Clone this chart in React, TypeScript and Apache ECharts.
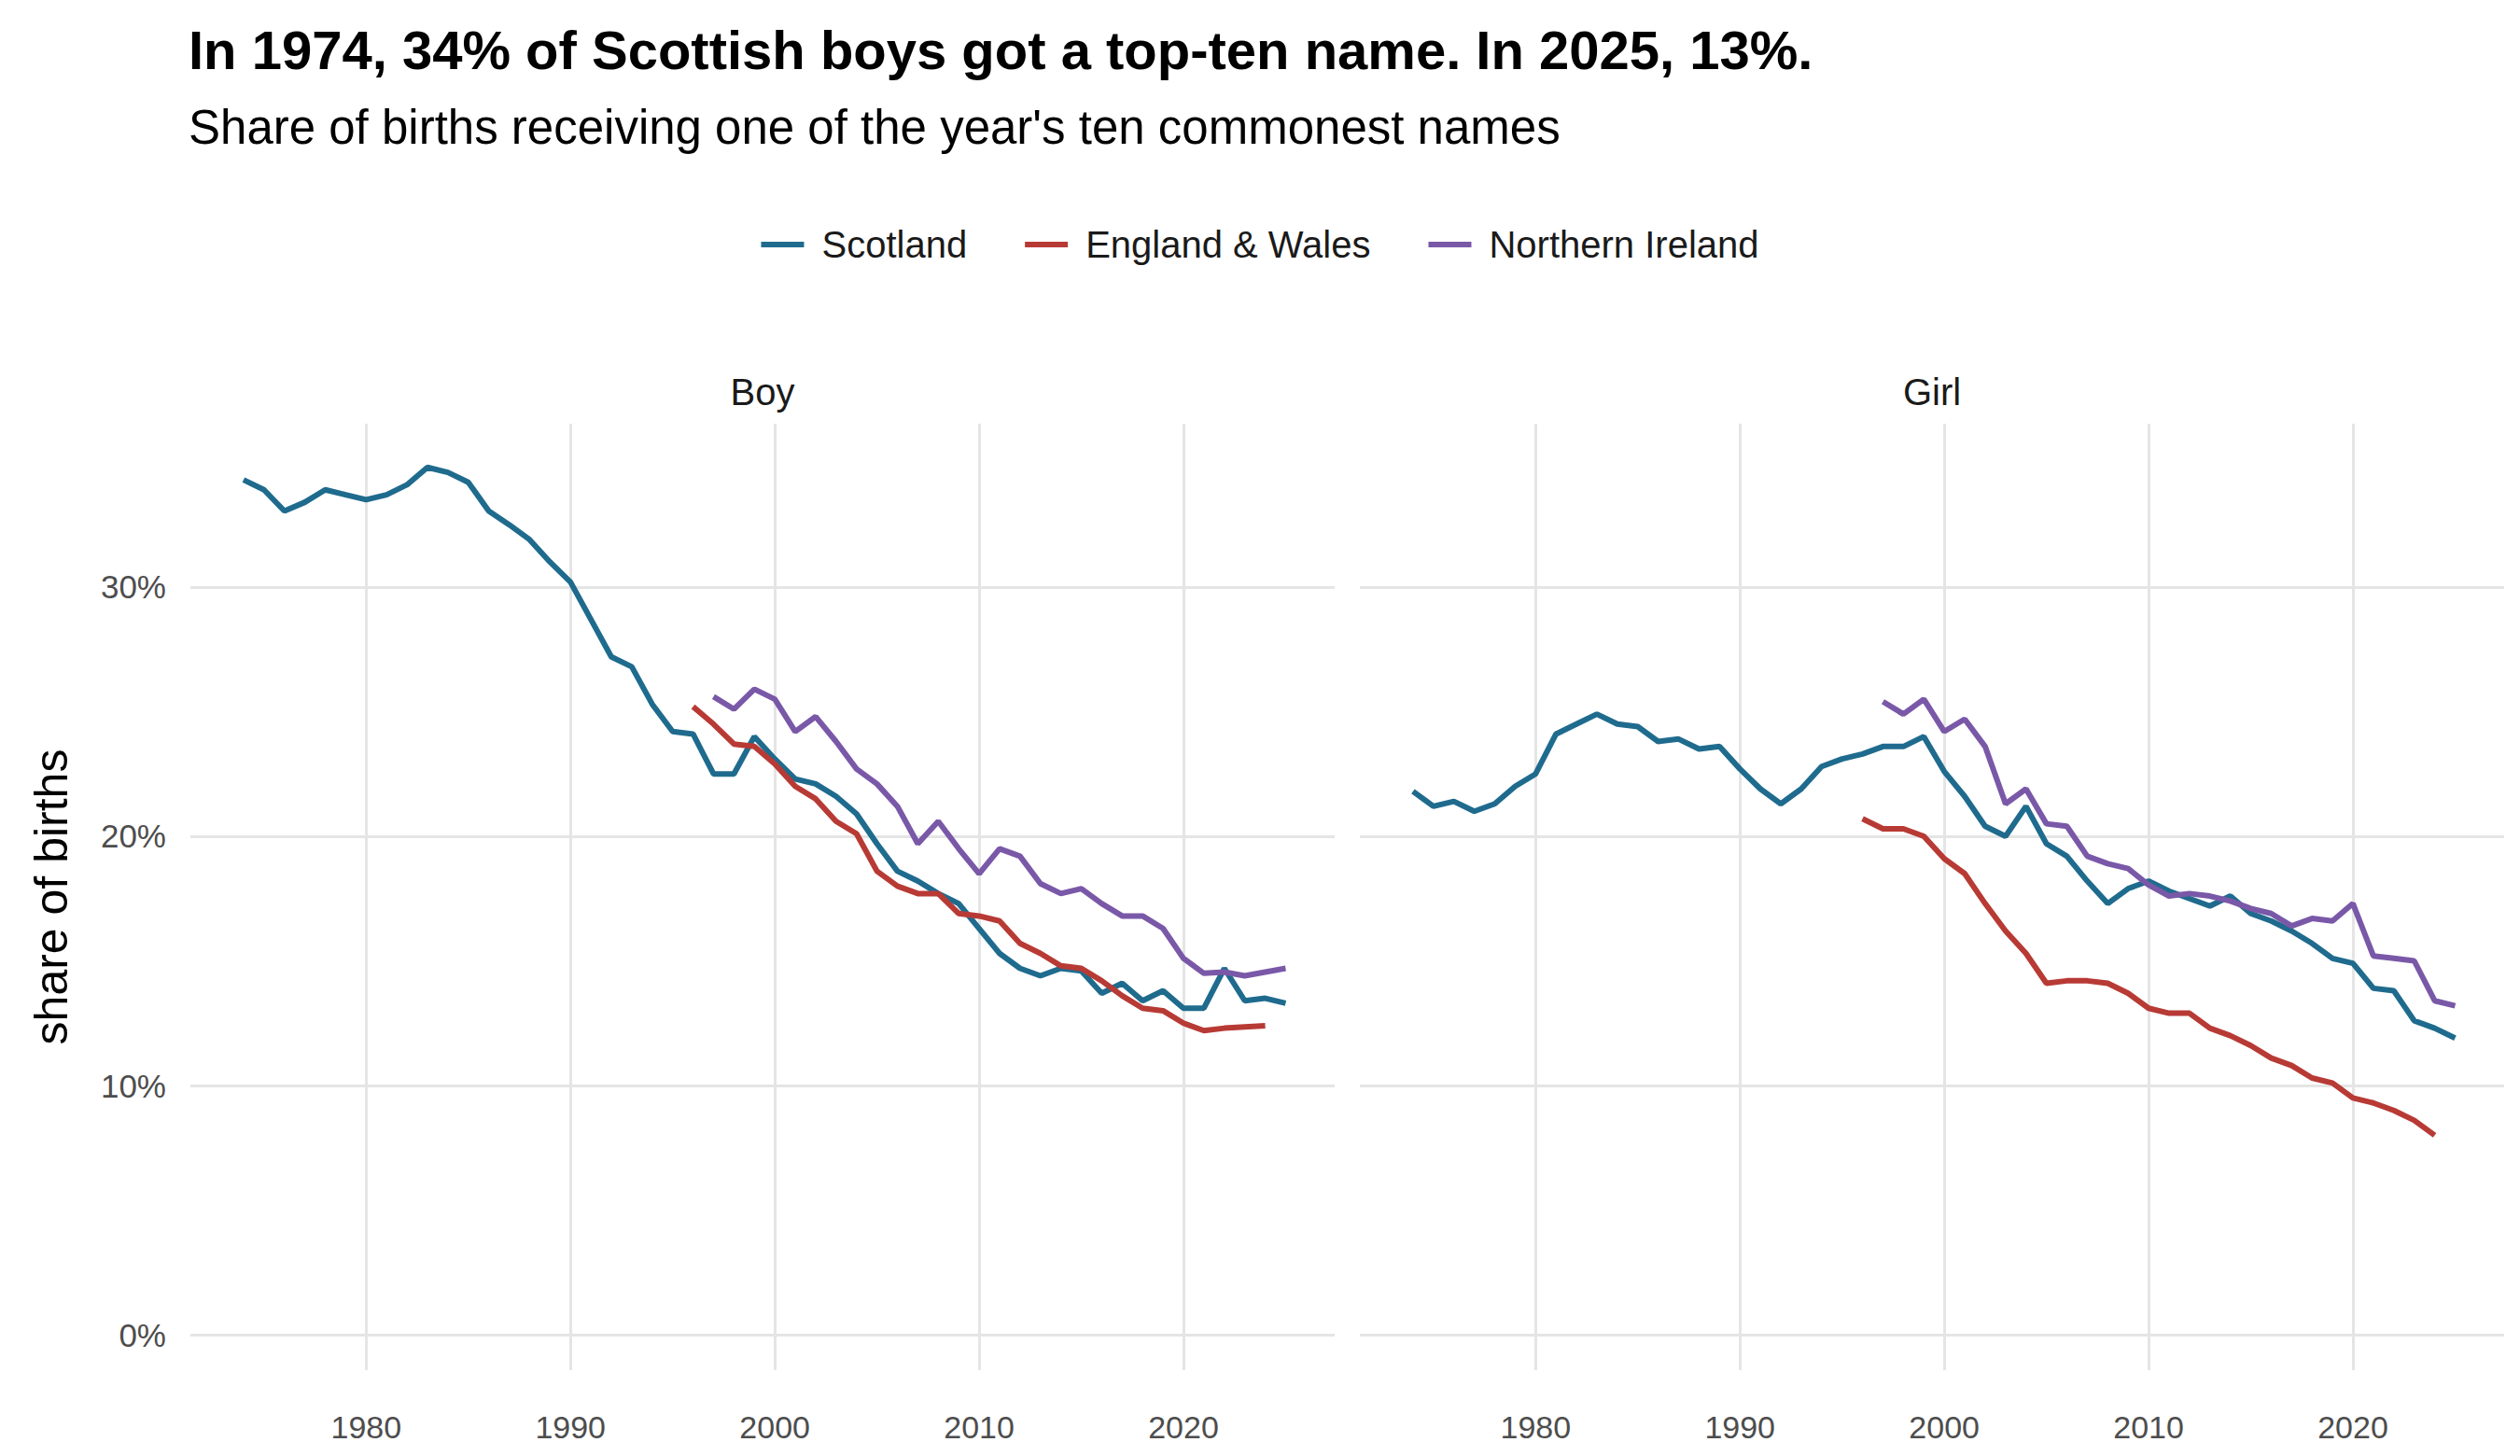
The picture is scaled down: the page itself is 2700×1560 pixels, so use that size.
import React, { useEffect, useRef } from "react";
import * as echarts from "echarts";

const years = Array.from({ length: 52 }, (_, i) => 1974 + i);
const boyScotland = [34.3,33.9,33.05,33.4,33.9,33.7,33.5,33.7,34.1,34.8,34.6,34.2,33.05,32.5,31.9,31.0,30.2,28.7,27.2,26.8,25.3,24.2,24.1,22.5,22.5,24.0,23.1,22.3,22.1,21.6,20.9,19.7,18.6,18.2,17.7,17.3,16.3,15.3,14.7,14.4,14.7,14.6,13.7,14.1,13.4,13.8,13.1,13.1,14.7,13.4,13.5,13.3];
const boyEW = [25.2,24.5,23.7,23.6,22.9,22.0,21.5,20.6,20.1,18.6,18.0,17.7,17.7,16.9,16.8,16.6,15.7,15.3,14.8,14.7,14.2,13.6,13.1,13.0,12.5,12.2,12.3,12.35,12.4];
const boyNI = [25.6,25.1,25.9,25.5,24.2,24.8,23.8,22.7,22.1,21.2,19.7,20.6,19.5,18.5,19.5,19.2,18.1,17.7,17.9,17.3,16.8,16.8,16.3,15.1,14.5,14.55,14.4,14.55,14.7];
const girlScotland = [21.8,21.2,21.4,21.0,21.3,22.0,22.5,24.1,24.5,24.9,24.5,24.4,23.8,23.9,23.5,23.6,22.7,21.9,21.3,21.9,22.8,23.1,23.3,23.6,23.6,24.0,22.6,21.6,20.4,20.0,21.2,19.7,19.2,18.2,17.3,17.9,18.2,17.8,17.5,17.2,17.6,16.9,16.6,16.2,15.7,15.1,14.9,13.9,13.8,12.6,12.3,11.9];
const girlEW = [20.7,20.3,20.3,20.0,19.1,18.5,17.3,16.2,15.3,14.1,14.2,14.2,14.1,13.7,13.1,12.9,12.9,12.3,12.0,11.6,11.1,10.8,10.3,10.1,9.5,9.3,9.0,8.6,8.0];
const girlNI = [25.4,24.9,25.5,24.2,24.7,23.6,21.3,21.9,20.5,20.4,19.2,18.9,18.7,18.05,17.6,17.7,17.6,17.4,17.1,16.9,16.4,16.7,16.6,17.3,15.2,15.1,15.0,13.4,13.2];
const ewStart = 1996;
const niStart = 1997;
const xTicks = [1980, 1990, 2000, 2010, 2020];
const yTicks = [0, 10, 20, 30];
const seriesNames = ["Scotland", "England & Wales", "Northern Ireland"];
const colors = ["#1f6b8e", "#b83a35", "#7a58a8"];

const pairs = (start: number, vals: number[]) => vals.map((v, i) => [start + i, v]);

export default function App() {
  const ref = useRef<HTMLDivElement>(null);
  useEffect(() => {
    const chart = echarts.init(ref.current!, null, { renderer: "svg" });
    const font = "Liberation Sans, Arial, sans-serif";
    const grids = [
      { left: 196, width: 1226, top: 446, height: 1014 },
      { left: 1449, width: 1226, top: 446, height: 1014 },
    ];
    const xAxis = grids.map((_, i) => ({
      type: "value", gridIndex: i, min: 1971.4, max: 2027.4,
      axisLine: { show: false }, axisTick: { show: false, customValues: xTicks },
      axisLabel: { customValues: xTicks, formatter: (v: number) => String(v), color: "#4d4d4d", fontSize: 34, fontFamily: font, margin: 44 },
      splitLine: { show: true, lineStyle: { color: "#e5e5e5", width: 3 } },
    }));
    const yAxis = grids.map((_, i) => ({
      type: "value", gridIndex: i, min: -1.42, max: 36.55,
      axisLine: { show: false }, axisTick: { show: false, customValues: yTicks },
      axisLabel: { show: i === 0, customValues: yTicks, formatter: (v: number) => v + "%", color: "#4d4d4d", fontSize: 35, fontFamily: font, margin: 26 },
      splitLine: { show: true, lineStyle: { color: "#e5e5e5", width: 3 } },
      name: i === 0 ? "share of births" : "", nameLocation: "middle", nameGap: 124,
      nameTextStyle: { fontSize: 50, color: "#000", fontFamily: font },
    }));
    const data = [
      [pairs(1974, boyScotland), pairs(ewStart, boyEW), pairs(niStart, boyNI)],
      [pairs(1974, girlScotland), pairs(ewStart, girlEW), pairs(niStart, girlNI)],
    ];
    const series: any[] = [];
    data.forEach((panel, gi) => panel.forEach((d, si) => series.push({
      type: "line", name: seriesNames[si], xAxisIndex: gi, yAxisIndex: gi, data: d,
      showSymbol: false, symbol: "none", lineStyle: { width: 6, color: colors[si] }, itemStyle: { color: colors[si] },
    })));
    chart.setOption({
      animation: false,
      backgroundColor: "#fff",
      grid: grids,
      xAxis, yAxis, series,
      legend: {
        data: seriesNames, top: 229, left: "center", itemWidth: 46, itemHeight: 6, itemGap: 62,
        icon: "rect", textStyle: { fontSize: 40, color: "#1a1a1a", fontFamily: font, padding: [0, 0, 0, 14] },
      },
      graphic: [
        { type: "text", left: 194, top: 16, style: { text: "In 1974, 34% of Scottish boys got a top-ten name. In 2025, 13%.", fontSize: 58, fontWeight: "bold", fill: "#000", fontFamily: font } },
        { type: "text", left: 194, top: 103, style: { text: "Share of births receiving one of the year's ten commonest names", fontSize: 51, fill: "#000", fontFamily: font } },
        { type: "text", x: 809, y: 412, style: { text: "Boy", fontSize: 40, fill: "#1a1a1a", fontFamily: font, align: "center", verticalAlign: "middle" } },
        { type: "text", x: 2062, y: 412, style: { text: "Girl", fontSize: 40, fill: "#1a1a1a", fontFamily: font, align: "center", verticalAlign: "middle" } },
      ],
    });
    return () => chart.dispose();
  }, []);
  return <div ref={ref} style={{ width: 2684, height: 1544 }} />;
}
